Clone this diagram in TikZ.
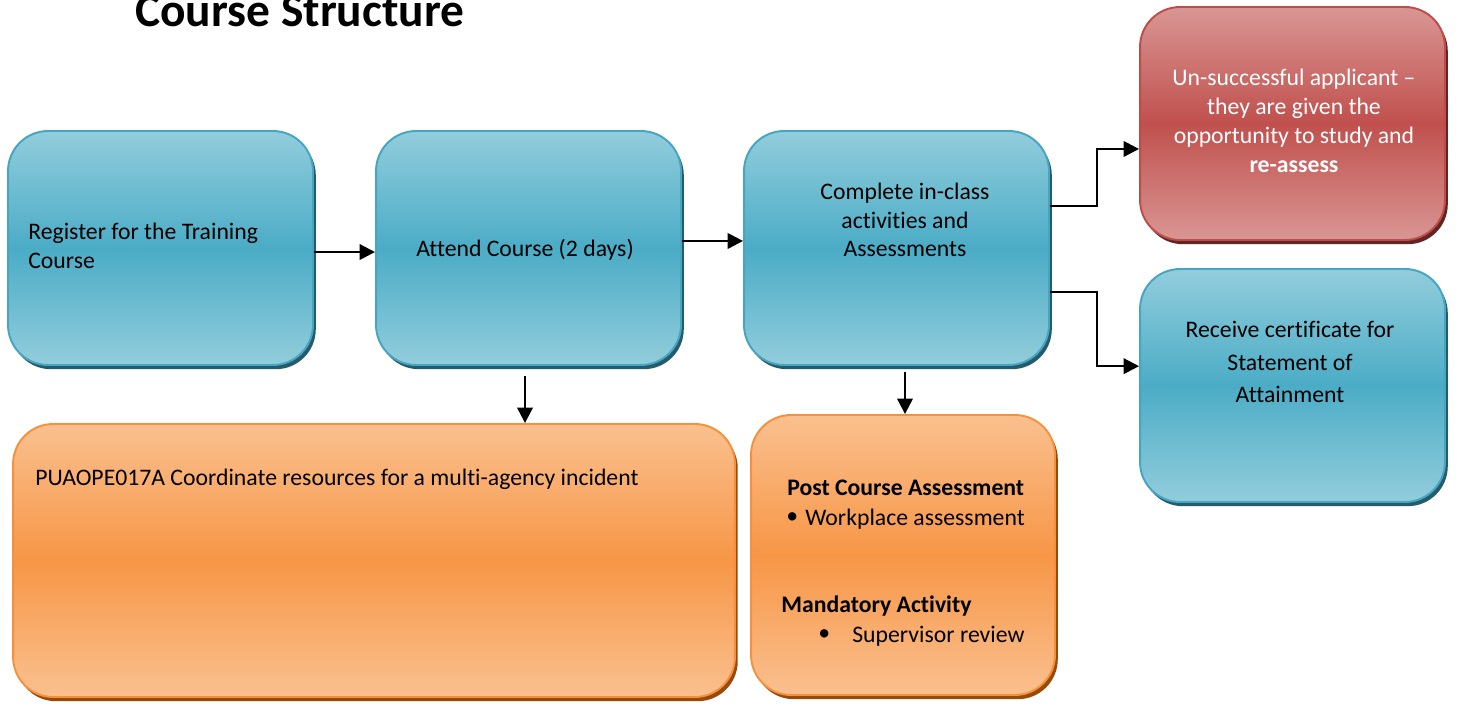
\documentclass[tikz,border=0pt]{standalone}
\usepackage{fontspec}
\setmainfont{Carlito}[Ligatures={NoCommon,NoContextual},Contextuals=NoAlternate]
\usetikzlibrary{arrows.meta,calc,shadows}
\definecolor{bTop}{RGB}{146,205,220}
\definecolor{bMid}{RGB}{75,172,198}
\definecolor{bLine}{RGB}{70,165,192}
\definecolor{bShadow}{RGB}{36,92,107}
\definecolor{rTop}{RGB}{217,150,148}
\definecolor{rMid}{RGB}{192,80,77}
\definecolor{rLine}{RGB}{190,76,73}
\definecolor{rShadow}{RGB}{99,37,35}
\definecolor{oTop}{RGB}{250,192,143}
\definecolor{oMid}{RGB}{247,150,70}
\definecolor{oLine}{RGB}{245,145,60}
\definecolor{oShadow}{RGB}{152,74,10}
\tikzset{
  box/.style={rounded corners=0.8cm, line width=1.1pt, inner sep=0pt},
  bluebox/.style={box, draw=bLine, top color=bTop, bottom color=bTop, middle color=bMid,
    drop shadow={shadow xshift=1.6pt, shadow yshift=-2.4pt, fill=bShadow, opacity=1}},
  redbox/.style={box, draw=rLine, top color=rTop, bottom color=rTop, middle color=rMid,
    drop shadow={shadow xshift=1.6pt, shadow yshift=-2.4pt, fill=rShadow, opacity=1}},
  orangebox/.style={box, draw=oLine, top color=oTop, bottom color=oTop, middle color=oMid,
    drop shadow={shadow xshift=1.6pt, shadow yshift=-2.4pt, fill=oShadow, opacity=1}},
  arr/.style={line width=1.3pt, -{Triangle[length=0.31cm,width=0.31cm]}},
  body/.style={font=\fontsize{13.5}{16.4}\selectfont, inner sep=0pt},
  bodyb/.style={font=\fontsize{13.5}{16.4}\selectfont\bfseries, inner sep=0pt}
}
\begin{document}
\begin{tikzpicture}[x=0.02cm,y=-0.02cm]
\useasboundingbox (0,0) rectangle (1457,705);
\fill[white] (0,0) rectangle (1457,705);

\node[anchor=base west, inner sep=0pt, font=\fontsize{27}{30}\selectfont\bfseries] (title) at (135,27) {Course Structure};

\node[bluebox, minimum width=6.1cm, minimum height=4.68cm] (reg) at (160.5,248) {};
\node[bluebox, minimum width=6.1cm, minimum height=4.68cm] (att) at (528.5,248) {};
\node[bluebox, minimum width=6.1cm, minimum height=4.68cm] (comp) at (896.5,248) {};
\node[redbox, minimum width=6.1cm, minimum height=4.66cm] (red) at (1292.5,123.5) {};
\node[bluebox, minimum width=6.1cm, minimum height=4.66cm] (rec) at (1292.5,385.5) {};
\node[orangebox, minimum width=14.44cm, minimum height=5.46cm] (obig) at (374,560.5) {};
\node[orangebox, minimum width=6.08cm, minimum height=5.6cm] (osmall) at (903,555) {};

\node[body, anchor=west, align=left] (tReg) at (28,246) {Register for the Training\\Course};
\node[body] (tAtt) at (525,250) {Attend Course (2 days)};
\node[body, align=center] (tComp) at (905,220) {Complete in-class\\activities and\\Assessments};
\node[body, align=center, text=white] (tRed) at (1294,121) {Un-successful applicant –\\they are given the\\opportunity to study and\\\textbf{re-assess}};
\node[body, align=center, font=\fontsize{13.5}{18.7}\selectfont] (tRec) at (1290,362) {Receive certificate for\\Statement of\\Attainment};
\node[body, anchor=west] (tBig) at (35,479) {PUAOPE017A Coordinate resources for a multi-agency incident};

\node[bodyb, anchor=west] (tPost) at (787,488) {Post Course Assessment};
\node[body, anchor=west] (b1) at (786,518) {•};
\node[body, anchor=west] (tWork) at (805,519) {Workplace assessment};
\node[bodyb, anchor=west] (tMand) at (781,606) {Mandatory Activity};
\node[body, anchor=west] (b2) at (818,635) {•};
\node[body, anchor=west] (tSup) at (852,636) {Supervisor review};

\draw[arr] ([yshift=-2.3pt]reg.east) -- ([yshift=-2.3pt]att.west);
\draw[arr] ([yshift=4pt]att.east) -- ([yshift=4pt]comp.west);
\draw[arr] ([yshift=23.8pt]comp.east) -- ++(47,0) |- ([yshift=-14.5pt]red.west);
\draw[arr] ([yshift=-25pt]comp.east) -- ++(47,0) |- ([yshift=11pt]rec.west);
\draw[arr] ($(att.south)+(-3.5,10)$) -- ($(att.south |- obig.north)+(-3.5,0)$);
\draw[arr] ($(comp.south -| osmall.north)+(2,6)$) -- ($(osmall.north)+(2,0)$);
\end{tikzpicture}
\end{document}
